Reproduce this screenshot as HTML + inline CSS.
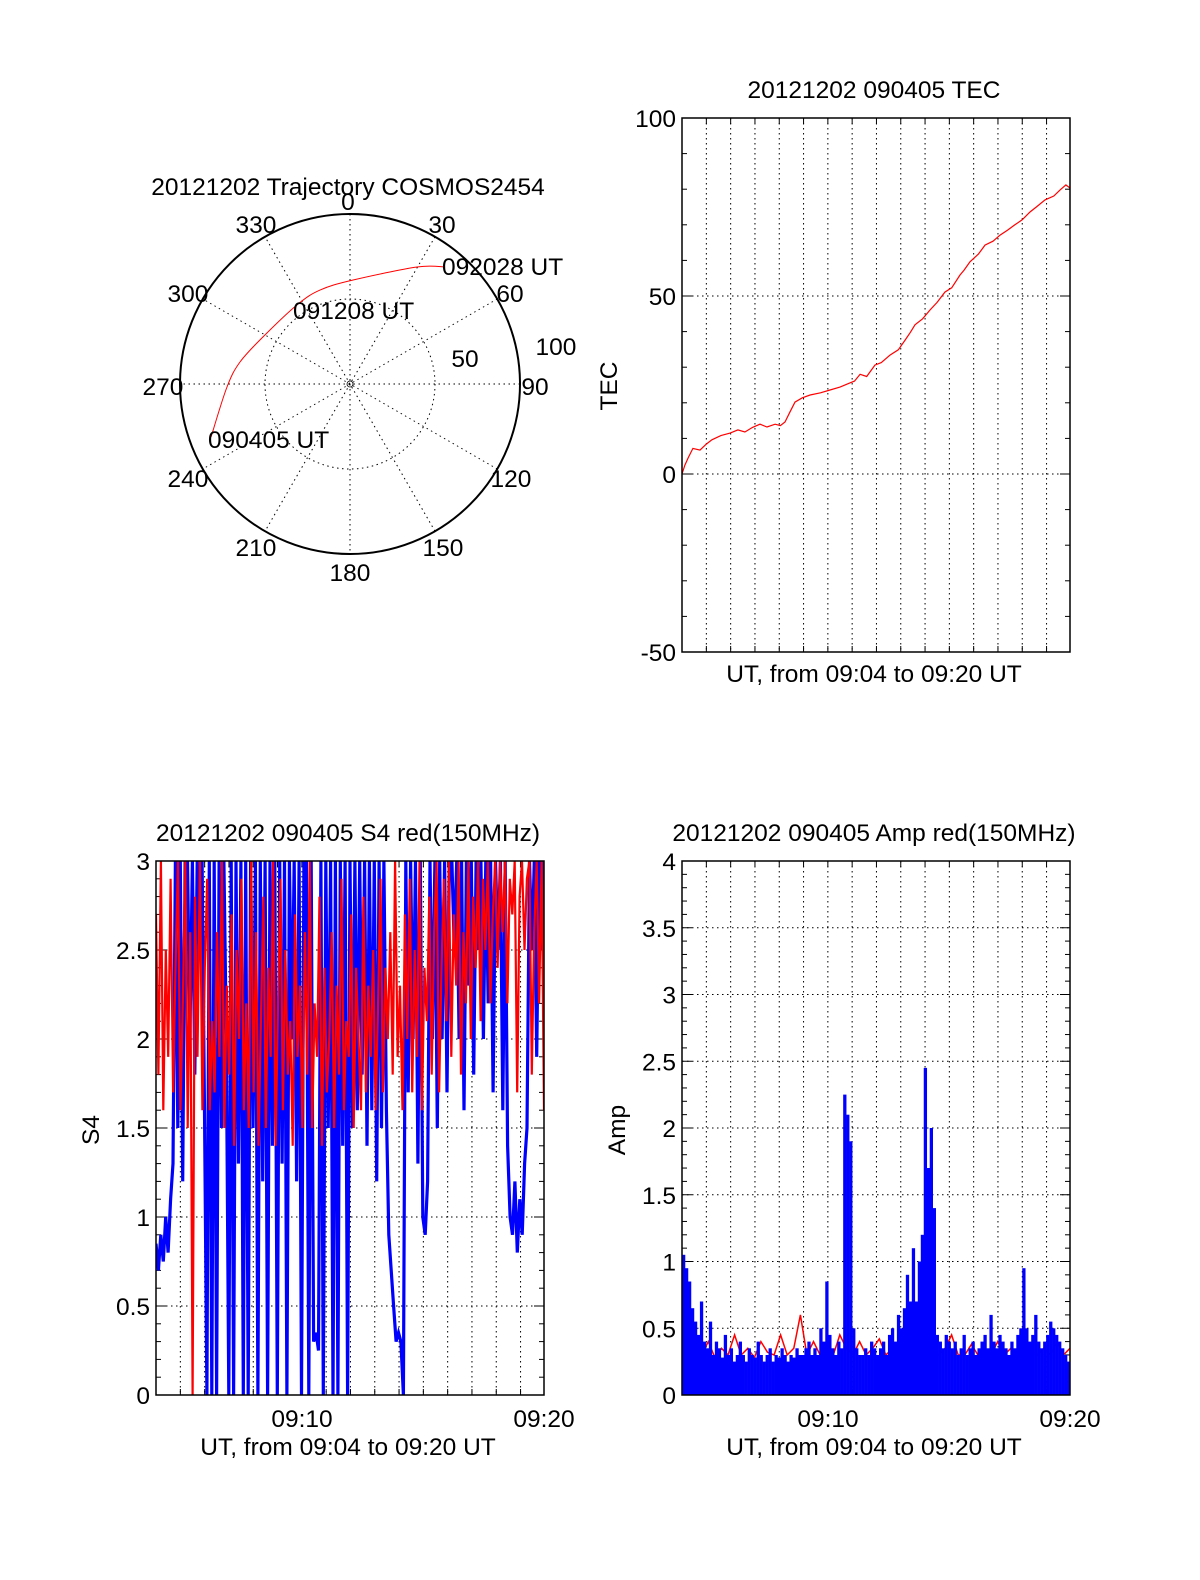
<!DOCTYPE html>
<html><head><meta charset="utf-8"><style>
body{margin:0;background:#fff}
svg text{font-family:"Liberation Sans",sans-serif;font-size:24.5px;fill:#000}
</style></head><body>
<svg id="s" width="1200" height="1575" xmlns="http://www.w3.org/2000/svg"></svg>
<script>
// ---- data ----
const tecTimes=[0,0.12,0.25,0.45,0.74,1.0,1.23,1.6,1.98,2.3,2.59,2.9,3.21,3.5,3.83,4.05,4.24,4.45,4.65,4.95,5.27,5.7,6.09,6.5,6.91,7.1,7.33,7.6,7.94,8.2,8.56,8.9,9.18,9.4,9.59,9.9,10.21,10.5,10.82,11.1,11.44,11.6,11.85,12.2,12.47,12.8,13.09,13.4,13.7,14.0,14.32,14.6,14.94,15.3,15.56,15.8,15.97];
const tecValues=[0,2.5,4.5,7.2,6.7,8.4,9.6,10.8,11.5,12.4,11.8,13.1,14,13.2,14,13.6,14.6,17.5,20.2,21.4,22.2,22.8,23.6,24.4,25.6,26.1,28,27.4,30.6,31.3,33.4,34.9,37.6,39.8,41.9,43.6,46.1,48.2,51.1,52.3,55.9,57.2,59.6,61.8,64.3,65.4,67.1,68.5,70,71.4,73.6,75.1,77,78.1,79.8,81.2,80.3];
const trajAz=[249.1,268.6,281.3,298.4,326.1,342.3,1.7,29.8,39.1];
const trajZen=[87.5,72.4,66,58.2,56,58,61.2,79.3,88.7];
const s4Blue=[0.85,0.7,0.9,0.75,1.0,0.8,1.1,1.3,3,1.5,3,1.2,3,3,2,3,1.8,3,2.5,3,1.6,0,3,0,3,0,3,1.5,3,2,0,3,0,3,1.3,3,0,3,0,3,1.5,3,0,3,1.2,3,0,3,1.4,3,0,3,1.3,3,0,3,2,3,1.2,3,0,3,3,0,3,0.3,0.35,0.25,3,0,3,1.5,3,0,3,0,3,1.4,3,0,3,1.5,3,1.6,3,1.8,3,1.4,3,1.6,3,1.2,3,1.5,3,1.6,0.9,0.7,0.5,0.3,0.35,0.3,0,3,1.7,3,2,3,1.3,3,1.0,0.9,1.2,3,2,3,1.5,3,2,3,1.7,3,3,2.5,3,2,3,1.6,3,2.3,3,1.8,3,2.5,3,2,3,2.2,3,1.7,3,2.5,3,1.6,3,1.4,1.0,0.9,1.2,0.8,1.1,0.9,1.3,1.5,3,2.5,3,1.9,3,2.5,3];
const s4Red=[2.7,1.8,3,1.6,2.5,1.9,2.9,1.7,2.4,3,1.6,2.2,3,1.5,2.6,0,2.8,1.9,3,1.6,2.4,2.9,1.6,2.1,1.7,2.6,1.9,3,1.5,2.3,1.8,2.7,1.4,2.5,2.0,2.9,1.6,2.2,1.5,3,1.7,2.6,1.4,2.1,2.8,1.5,2.4,1.9,3,1.4,2.2,2.9,1.6,2.5,1.8,2.1,1.4,2.7,1.9,2.3,1.5,2.6,1.8,3,1.5,2.2,1.9,2.8,1.4,2.4,1.7,2.0,2.6,1.5,2.3,1.8,2.9,1.6,2.1,1.9,2.7,1.5,2.4,2.0,1.6,2.8,1.7,2.3,1.9,2.5,1.6,2.2,2.9,1.7,2.4,2.0,2.6,1.8,3,1.9,2.3,1.6,2.7,2.0,2.9,1.7,2.5,1.9,3,1.6,2.4,2.1,2.8,1.8,2.6,3,1.7,2.4,2.9,2.1,3,1.9,2.7,2.3,3,1.8,2.6,2.2,3,2.0,2.8,2.4,3,2.1,2.9,2.5,3,2.2,2.7,3,2.4,3,2.6,3,2.2,2.9,2.7,3,1.7,2.8,3,2.5,2.9,3,1.8,2.6,3,2.2,3,1.6];
const ampBlue=[1.05,0.95,0.85,0.65,0.55,0.45,0.7,0.4,0.35,0.55,0.3,0.4,0.35,0.28,0.45,0.3,0.35,0.25,0.3,0.4,0.3,0.25,0.35,0.3,0.28,0.4,0.3,0.25,0.3,0.35,0.25,0.3,0.28,0.35,0.3,0.25,0.3,0.28,0.35,0.3,0.3,0.35,0.4,0.3,0.35,0.3,0.5,0.4,0.85,0.45,0.35,0.3,0.4,0.35,2.25,2.1,1.9,0.5,0.35,0.3,0.3,0.35,0.3,0.4,0.35,0.3,0.35,0.4,0.3,0.45,0.5,0.4,0.6,0.5,0.65,0.9,0.7,1.1,0.7,1.0,1.2,2.45,1.7,2.0,1.4,0.45,0.4,0.35,0.45,0.4,0.35,0.4,0.3,0.35,0.45,0.3,0.35,0.4,0.3,0.35,0.4,0.45,0.35,0.6,0.4,0.35,0.45,0.4,0.35,0.3,0.4,0.35,0.45,0.5,0.95,0.5,0.4,0.45,0.6,0.4,0.35,0.4,0.45,0.55,0.5,0.45,0.4,0.35,0.3,0.25];
const ampRed=[0.3,0.25,0.35,0.3,0.4,0.28,0.35,0.3,0.45,0.3,0.35,0.28,0.4,0.32,0.3,0.45,0.3,0.35,0.6,0.3,0.4,0.3,0.38,0.3,0.45,0.35,0.3,0.4,0.3,0.35,0.42,0.3,0.35,0.28,0.4,0.3,0.35,0.3,0.4,0.3,0.35,0.45,0.3,0.3,0.38,0.3,0.35,0.3,0.4,0.3,0.35,0.3,0.4,0.35,0.3,0.35,0.3,0.4,0.3,0.35];
const tecYTicks=[100,50,0,-50];
const s4YTicks=[0,0.5,1,1.5,2,2.5,3];
const ampYTicks=[0,0.5,1,1.5,2,2.5,3,3.5,4];
const xTickLabels=['09:10','09:20'];
const polarAngles=[0,30,60,90,120,150,180,210,240,270,300,330];

// ---- helpers ----
const S=document.getElementById('s');const NS='http://www.w3.org/2000/svg';
function el(tag,attrs,parent){const e=document.createElementNS(NS,tag);for(const k in attrs)e.setAttribute(k,attrs[k]);(parent||S).appendChild(e);return e;}
function txt(x,y,s,anchor,parent,rot){const t=el('text',{x:x,y:y,'text-anchor':anchor||'middle'},parent);if(rot)t.setAttribute('transform','rotate(-90 '+x+' '+y+')');t.textContent=s;return t;}
const DOT='1.5,3.5';
function frame(name,L,T,W,H,ymin,ymax,yticks,ygridStep,minorStep){
  const g=el('g',{});
  
  
  const sy=v=>T+H-(v-ymin)/(ymax-ymin)*H;
  for(let m=1;m<=15;m++){const x=L+(m-0.08)*24.3+2;el('line',{x1:x,x2:x,y1:T,y2:T+H,stroke:'#000','stroke-dasharray':DOT,'stroke-width':1},g);
    el('line',{x1:x,x2:x,y1:T+H,y2:T+H-6,stroke:'#000'},g);el('line',{x1:x,x2:x,y1:T,y2:T+6,stroke:'#000'},g);}
  for(let v=ymin+ygridStep;v<ymax-1e-9;v+=ygridStep){el('line',{x1:L,x2:L+W,y1:sy(v),y2:sy(v),stroke:'#000','stroke-dasharray':DOT},g);}
  for(let v=ymin;v<=ymax+1e-9;v+=minorStep){const y=sy(v);const big=Math.abs((v-ymin)/ygridStep-Math.round((v-ymin)/ygridStep))<1e-6;const l=big?10:5;
    el('line',{x1:L,x2:L+l,y1:y,y2:y,stroke:'#000'},g);el('line',{x1:L+W,x2:L+W-l,y1:y,y2:y,stroke:'#000'},g);}
  yticks.forEach(v=>{const t=txt(L-6,sy(v)+9,String(v),'end',g);});
  return {g,sy,L,T,W,H};
}
function border(f){const r=el('rect',{x:f.L,y:f.T,width:f.W,height:f.H,fill:'none',stroke:'#000','stroke-width':1.5},f.g);}

// ---- polar ----
(function(){
  const g=el('g',{});
  
  
  const cx=350,cy=384,R=170,k=R/100;
  polarAngles.forEach(a=>{const r=a*Math.PI/180;if(a<180)el('line',{x1:cx+R*Math.sin(r),y1:cy-R*Math.cos(r),x2:cx-R*Math.sin(r),y2:cy+R*Math.cos(r),stroke:'#000','stroke-dasharray':DOT},g);});
  el('circle',{cx:cx,cy:cy,r:50*k,fill:'none',stroke:'#000','stroke-dasharray':DOT},g);
  el('circle',{cx:cx,cy:cy,r:3,fill:'none',stroke:'#000','stroke-width':0.8},g);
  el('circle',{cx:cx,cy:cy,r:R,fill:'none',stroke:'#000','stroke-width':2},g);
  const P=trajAz.map((a,i)=>{const r=a*Math.PI/180;return [cx+trajZen[i]*k*Math.sin(r),cy-trajZen[i]*k*Math.cos(r)];});
  let d='M'+P[0][0].toFixed(1)+' '+P[0][1].toFixed(1);
  for(let i=0;i<P.length-1;i++){const p0=P[Math.max(0,i-1)],p1=P[i],p2=P[i+1],p3=P[Math.min(P.length-1,i+2)];
    const c1=[p1[0]+(p2[0]-p0[0])/6,p1[1]+(p2[1]-p0[1])/6],c2=[p2[0]-(p3[0]-p1[0])/6,p2[1]-(p3[1]-p1[1])/6];
    d+=' C'+c1[0].toFixed(1)+' '+c1[1].toFixed(1)+' '+c2[0].toFixed(1)+' '+c2[1].toFixed(1)+' '+p2[0].toFixed(1)+' '+p2[1].toFixed(1);}
  const pl=el('path',{d:d,fill:'none',stroke:'#f00','stroke-width':1},g);
  
  
  const labs=[[0,348,210],[30,442,233],[60,510,302],[90,535,395],[120,511,487],[150,443,556],[180,350,581],[210,256,556],[240,188,487],[270,163,395],[300,188,302],[330,256,233]];
  labs.forEach(l=>txt(l[1],l[2],String(l[0]),'middle',g));
  txt(465,367,'50','middle',g);txt(556,355,'100','middle',g);
  txt(208,448,'090405 UT','start',g);txt(293,319,'091208 UT','start',g);txt(442,275,'092028 UT','start',g);
  const t=txt(348,195,'20121202 Trajectory COSMOS2454','middle',g);
})();

// ---- TEC ----
(function(){
  const f=frame('tec-plot',682,118,388,534,-50,100,tecYTicks,50,10);
  const pts=tecTimes.map((t,i)=>(682+t*24.3).toFixed(1)+','+f.sy(tecValues[i]).toFixed(1)).join(' ');
  const pl=el('polyline',{points:pts,fill:'none',stroke:'#f00','stroke-width':1.2},f.g);
  
  
  border(f);
  txt(874,98,'20121202 090405 TEC','middle',f.g);
  txt(874,682,'UT, from 09:04 to 09:20 UT','middle',f.g);
  txt(617,386,'TEC','middle',f.g,true);
})();

// ---- S4 ----
(function(){
  const f=frame('s4-plot',156,861,388,534,0,3,s4YTicks,0.5,0.1);
  const cp=el('clipPath',{id:'c1'},f.g);el('rect',{x:156,y:861,width:388,height:534},cp);
  const line=(arr,col,name,w)=>{const n=arr.length;const pts=arr.map((v,i)=>(156+i*388/(n-1)).toFixed(1)+','+f.sy(v).toFixed(1)).join(' ');
    const p=el('polyline',{points:pts,fill:'none',stroke:col,'stroke-width':w,'clip-path':'url(#c1)'},f.g);};
  line(s4Blue,'#00f','s4-blue-line',3.2);line(s4Red,'#f00','s4-red-line',2.2);
  border(f);
  txt(302,1427,xTickLabels[0],'middle',f.g);txt(544,1427,xTickLabels[1],'middle',f.g);
  txt(348,841,'20121202 090405 S4 red(150MHz)','middle',f.g);
  txt(348,1455,'UT, from 09:04 to 09:20 UT','middle',f.g);
  txt(99,1130,'S4','middle',f.g,true);
})();

// ---- Amp ----
(function(){
  const f=frame('amp-plot',682,861,388,534,0,4,ampYTicks,0.5,0.1);
  const n=ampRed.length;const pts=ampRed.map((v,i)=>(682+i*388/(n-1)).toFixed(1)+','+f.sy(v).toFixed(1)).join(' ');
  const p=el('polyline',{points:pts,fill:'none',stroke:'#f00','stroke-width':1.5},f.g);
  const bw=388/ampBlue.length;
  ampBlue.forEach((v,i)=>{const r=el('rect',{x:(682+i*bw).toFixed(2),y:f.sy(v).toFixed(1),width:(bw+0.3).toFixed(2),height:(f.sy(0)-f.sy(v)).toFixed(1),fill:'#00f'},f.g);
    
    });
  border(f);
  txt(828,1427,xTickLabels[0],'middle',f.g);txt(1070,1427,xTickLabels[1],'middle',f.g);
  txt(874,841,'20121202 090405 Amp red(150MHz)','middle',f.g);
  txt(874,1455,'UT, from 09:04 to 09:20 UT','middle',f.g);
  txt(625,1130,'Amp','middle',f.g,true);
})();
</script>
</body></html>
